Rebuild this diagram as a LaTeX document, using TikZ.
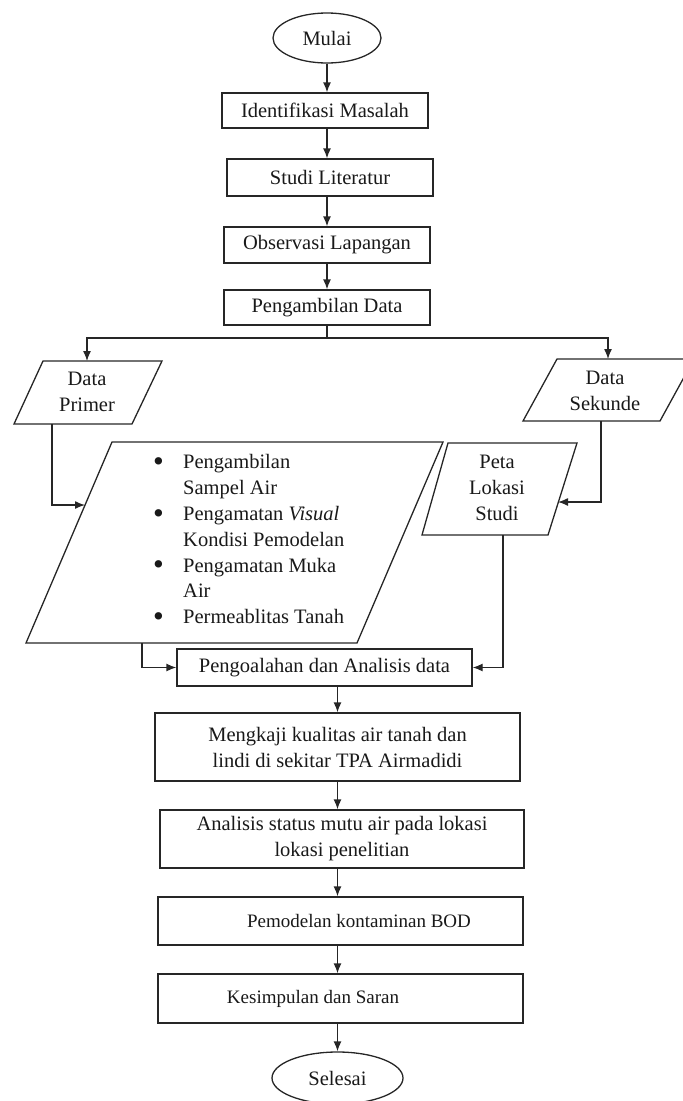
\documentclass[tikz,border=0pt]{standalone}
\usepackage{fontspec}
\setmainfont{Liberation Serif}
\usetikzlibrary{shapes.geometric,arrows.meta}
\newcommand{\bigbul}{\raisebox{-2.6pt}{\scalebox{1.5}{\textbullet}}}
\tikzset{
  ln/.style={draw=black!85, line width=1.3pt},
  txt/.style={text=black!90, font=\fontsize{20.5}{26}\selectfont, inner sep=0pt, align=center},
  procbox/.style={ln, txt, rectangle},
  termnode/.style={ln, txt, ellipse},
  arr/.style={ln, -{Latex[length=10pt,width=8pt]}},
  link/.style={ln},
}
\begin{document}
\begin{tikzpicture}[x=1pt,y=-1pt]
\useasboundingbox (0,0) rectangle (683,1101);

% top chain
\node[termnode, minimum width=108, minimum height=50] (mulai) at (327,38) {Mulai};
\node[procbox, minimum width=206, minimum height=35] (ident) at (325,110.5) {Identifikasi Masalah};
\node[procbox, minimum width=206, minimum height=37] (studi) at (330,177.5) {Studi Literatur};
\node[procbox, minimum width=206, minimum height=36] (obs) at (327,245) {Observasi Lapangan};
\node[procbox, minimum width=206, minimum height=35] (ambil) at (327,307.5) {Pengambilan Data};

\draw[arr] (mulai.south) -- (ident.north -| mulai);
\draw[arr] (ident.south -| mulai) -- (studi.north -| mulai);
\draw[arr] (studi.south -| mulai) -- (obs.north -| mulai);
\draw[arr] (obs.south -| mulai) -- (ambil.north -| mulai);

% data primer
\draw[ln] (14,424) -- (132,424) -- (162,361) -- (43,361) -- cycle;
\node[txt] (dp) at (87,392) {Data\\Primer};
\coordinate (dpTop) at (87,361);
\coordinate (dpBot) at (52,424);

% data sekunde
\draw[ln] (523,421) -- (660,421) -- (694,359) -- (557,359) -- cycle;
\node[txt] (ds) at (605,391) {Data\\Sekunde};
\coordinate (dsTop) at (608,359);
\coordinate (dsBot) at (601,421);

% branch
\coordinate (junc) at (327,338);
\draw[link] (ambil.south -| mulai) -- (junc);
\draw[arr] (junc) -| (dpTop);
\draw[arr] (junc) -| (dsTop);

% big parallelogram with list
\draw[ln] (26,643) -- (357,643) -- (443,442) -- (112,442) -- cycle;
\node[txt, align=left, anchor=west, font=\fontsize{20.5}{25.8}\selectfont] (list) at (153,540.5) {%
\makebox[30pt][l]{\bigbul}Pengambilan\\
\hspace*{30pt}Sampel Air\\
\makebox[30pt][l]{\bigbul}Pengamatan \textit{Visual}\\
\hspace*{30pt}Kondisi Pemodelan\\
\makebox[30pt][l]{\bigbul}Pengamatan Muka\\
\hspace*{30pt}Air\\
\makebox[30pt][l]{\bigbul}Permeablitas Tanah};
\coordinate (bpIn) at (85,505);
\coordinate (bpBot) at (142,643);

% peta lokasi studi
\draw[ln] (422,535) -- (548,535) -- (577,443) -- (448,443) -- cycle;
\node[txt] (peta) at (497,488) {Peta\\Lokasi\\Studi};
\coordinate (petaIn) at (558,502);
\coordinate (petaBot) at (503,535);

\draw[arr] (dpBot) |- (bpIn);
\draw[arr] (dsBot) |- (petaIn);

% lower chain
\node[procbox, minimum width=295, minimum height=37] (olah) at (324.5,667.5) {Pengoalahan dan Analisis data};
\draw[arr] (bpBot) |- (olah.west);
\draw[arr] (petaBot) |- (olah.east);

\node[procbox, minimum width=365, minimum height=68] (kaji) at (337.5,747) {Mengkaji kualitas air tanah dan\\lindi di sekitar TPA Airmadidi};
\node[procbox, minimum width=364, minimum height=58] (anal) at (342,839) {Analisis status mutu air pada lokasi\\lokasi penelitian};
\node[procbox, minimum width=365, minimum height=48, font=\fontsize{19}{24}\selectfont] (model) at (340.5,921) {\hspace*{37pt}Pemodelan kontaminan BOD};
\node[procbox, minimum width=365, minimum height=49, font=\fontsize{19}{24}\selectfont] (simpul) at (340.5,998.5) {Kesimpulan dan Saran\hspace*{55pt}};
\node[termnode, minimum width=131, minimum height=52] (selesai) at (337.5,1078) {Selesai};

\draw[arr] (olah.south -| kaji) -- (kaji.north);
\draw[arr] (kaji.south) -- (anal.north -| kaji);
\draw[arr] (anal.south -| kaji) -- (model.north -| kaji);
\draw[arr] (model.south -| kaji) -- (simpul.north -| kaji);
\draw[arr] (simpul.south -| selesai) -- (selesai.north);
\end{tikzpicture}
\end{document}
